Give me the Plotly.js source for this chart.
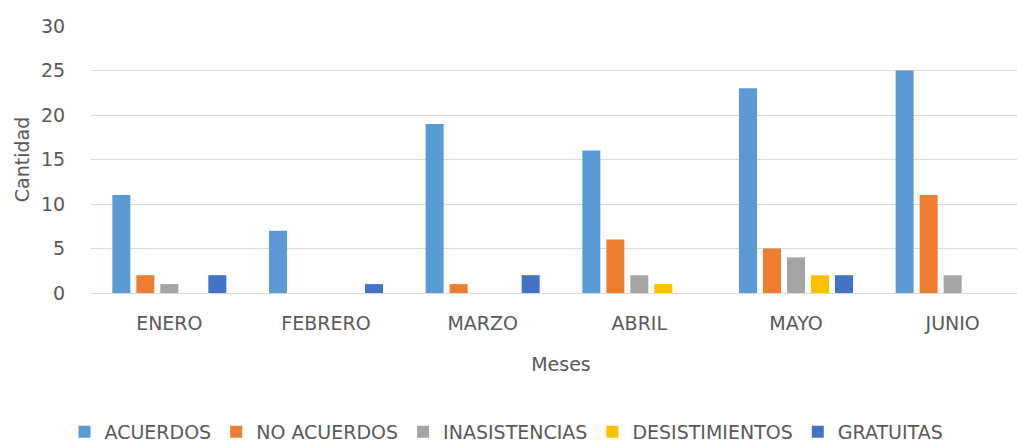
<!DOCTYPE html>
<html>
<head>
<meta charset="utf-8">
<script src="https://cdn.plot.ly/plotly-3.0.1.min.js"></script>
<style>
  html, body { margin: 0; background: #fff; overflow: hidden; }
  #chart { width: 1031px; height: 445px; }
</style>
</head>
<body>
<div id="chart"></div>
<script>
// Months (categories)
const meses = ['ENERO', 'FEBRERO', 'MARZO', 'ABRIL', 'MAYO', 'JUNIO'];

// Series values
const acuerdos = [11, 7, 19, 16, 23, 25];
const noAcuerdos = [2, 0, 1, 6, 5, 11];
const inasistencias = [1, 0, 0, 2, 4, 2];
const desistimientos = [0, 0, 0, 1, 2, 0];
const gratuitas = [2, 1, 2, 0, 2, 0];

const seriesNames = ['ACUERDOS', 'NO ACUERDOS', 'INASISTENCIAS', 'DESISTIMIENTOS', 'GRATUITAS'];
const seriesColors = ['#5B9BD5', '#ED7D31', '#A5A5A5', '#FFC000', '#4472C4'];
const seriesValues = [acuerdos, noAcuerdos, inasistencias, desistimientos, gratuitas];

const textColor = '#595959';
const fontFamily = 'DejaVu Sans, sans-serif';

const traces = seriesValues.map((vals, i) => ({
  type: 'bar',
  name: seriesNames[i],
  x: meses,
  y: vals,
  marker: { color: seriesColors[i] },
  hoverinfo: 'x+y+name'
}));

// the original chart runs a little past the right edge of the picture,
// so the plot is drawn wider than the window and clipped
const layout = {
  width: 1031,
  height: 445,
  margin: { l: 91, r: 0, t: 26, b: 152, autoexpand: false },
  paper_bgcolor: '#ffffff',
  plot_bgcolor: '#ffffff',
  barmode: 'group',
  bargap: 0.234,
  bargroupgap: 0.25,
  font: { family: fontFamily, color: textColor, size: 19 },
  xaxis: {
    type: 'category',
    showgrid: false,
    showline: false,
    zeroline: false,
    ticks: 'outside',
    ticklen: 13,
    tickcolor: 'rgba(0,0,0,0)',
    tickfont: { size: 19, color: textColor },
    automargin: false,
    title: { text: 'Meses', font: { size: 19, color: textColor }, standoff: 24 }
  },
  yaxis: {
    range: [0, 30],
    dtick: 5,
    showgrid: true,
    gridcolor: '#D9D9D9',
    gridwidth: 1,
    zeroline: true,
    zerolinecolor: '#D9D9D9',
    zerolinewidth: 1,
    showline: false,
    ticks: 'outside',
    ticklen: 21,
    tickcolor: 'rgba(0,0,0,0)',
    tickfont: { size: 19, color: textColor },
    automargin: false,
    title: { text: 'Cantidad', font: { size: 19, color: textColor }, standoff: 6 }
  },
  legend: {
    orientation: 'h',
    x: 0.442,
    xanchor: 'center',
    y: -0.52,
    yanchor: 'middle',
    font: { size: 19, color: textColor },
    itemwidth: 30,
    traceorder: 'normal'
  },
  showlegend: true
};

Plotly.newPlot('chart', traces, layout, { displayModeBar: false, staticPlot: true });
</script>
</body>
</html>
